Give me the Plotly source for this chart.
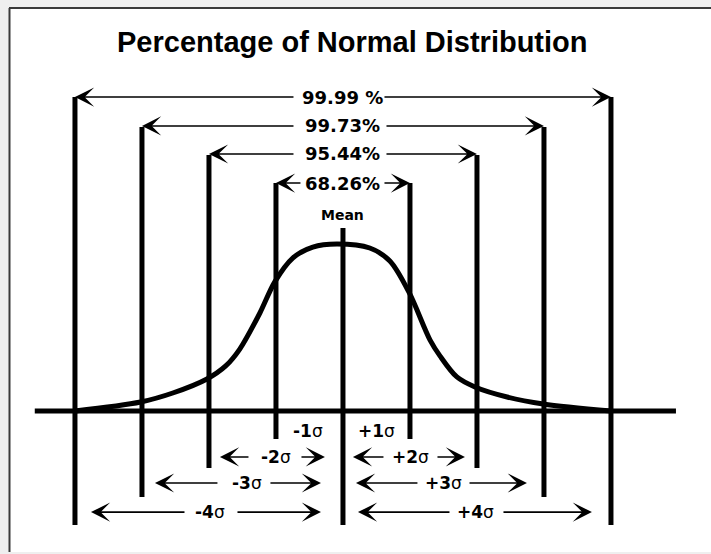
import plotly.graph_objects as go

# ---------------- data ----------------
title_text = "Percentage of Normal Distribution"
sigma_levels = [1, 2, 3, 4]
percent_labels = ["68.26%", "95.44%", "99.73%", "99.99 %"]   # for 1,2,3,4 sigma
mean_label = "Mean"

# curve (x in sigma units, relative height)
curve_x = [-4.0, -3.02, -2.54, -2.03, -1.75, -1.54, -1.24, -1.02, -0.75, -0.45, -0.09,
           0.40, 0.70, 0.99, 1.30, 1.45, 1.70, 1.97, 2.45, 2.99, 4.0]
curve_y = [0.0, 0.054, 0.108, 0.192, 0.27, 0.371, 0.587, 0.772, 0.916, 0.982, 1.0,
           0.976, 0.898, 0.707, 0.425, 0.329, 0.204, 0.144, 0.084, 0.042, 0.0]

# ---------------- geometry (data units) ----------------
line_top = {0: 1.096, 1: 1.365, 2: 1.533, 3: 1.701, 4: 1.880}
line_bot = {0: -0.683, 1: -0.168, 2: -0.341, 3: -0.515, 4: -0.683}
pct_y = {1: 1.365, 2: 1.539, 3: 1.707, 4: 1.880}
pct_tail = {1: (-0.627, 0.612), 2: (-0.731, 0.642), 3: (-0.731, 0.642), 4: (-0.731, 0.612)}

# bottom rows: (label, y, text_x, left_head, left_tail, right_tail, right_head)
bottom_rows = [
    ("-2", -0.275, -1.0, -1.836, -1.403, -0.627, -0.269),
    ("+2", -0.275, 1.015, 0.149, 0.612, 1.403, 1.821),
    ("-3", -0.431, -1.433, -2.806, -1.866, -1.090, -0.328),
    ("+3", -0.431, 1.493, 0.194, 1.119, 1.881, 2.746),
    ("-4", -0.605, -1.985, -3.761, -2.358, -1.582, -0.328),
    ("+4", -0.605, 1.985, 0.224, 1.597, 2.388, 3.716),
]
one_sigma_rows = [("-1", -0.522, -0.120), ("+1", 0.507, -0.120)]

W, H = 711, 554
XR = [-5.119, 5.493]
YR = [-0.856, 2.461]

fig = go.Figure()
fig.add_trace(go.Scatter(x=curve_x, y=curve_y, mode="lines",
                         line=dict(color="black", width=5, shape="spline", smoothing=0.9),
                         hoverinfo="skip", showlegend=False))

shapes = []
# frame
shapes.append(dict(type="rect", xref="paper", yref="paper", x0=10/W, x1=1, y0=2/H, y1=(H-8)/H,
                   fillcolor="white", line=dict(width=0), layer="below"))
shapes.append(dict(type="line", xref="paper", yref="paper", x0=9/W, x1=1, y0=(H-8)/H, y1=(H-8)/H,
                   line=dict(color="#3a3a3a", width=2)))
shapes.append(dict(type="line", xref="paper", yref="paper", x0=9.5/W, x1=9.5/W, y0=2/H, y1=(H-8)/H,
                   line=dict(color="#3a3a3a", width=2)))
# baseline
shapes.append(dict(type="line", x0=-4.6, x1=4.97, y0=0, y1=0, line=dict(color="black", width=5)))
# vertical lines
for k in [0] + sigma_levels:
    for s in ([k, -k] if k else [0]):
        shapes.append(dict(type="line", x0=s, x1=s, y0=line_bot[k], y1=line_top[k],
                           line=dict(color="black", width=5)))

ann = []
def arrow(tail_x, head_x, y):
    ann.append(dict(x=head_x, y=y, ax=tail_x, ay=y, xref="x", yref="y", axref="x", ayref="y",
                    text=" ", font=dict(size=1), borderpad=0, showarrow=True,
                    arrowhead=3, arrowsize=2.0, arrowwidth=1.6, arrowcolor="black"))

def label(x, y, text, size, family="DejaVu Sans", ref="x"):
    ann.append(dict(x=x, y=y, xref=ref, yref=ref.replace("x", "y"), text=text, showarrow=False,
                    xanchor="center", yanchor="middle",
                    font=dict(family=family, size=size, color="black")))

for k, lab in zip(sigma_levels, percent_labels):
    y = pct_y[k]
    lt, rt = pct_tail[k]
    arrow(lt, -k, y)
    arrow(rt, k, y)
    label(0, y, "<b>%s</b>" % lab, 18)

for lab, y, tx, lh, lt, rt, rh in bottom_rows:
    arrow(lt, lh, y)
    arrow(rt, rh, y)
    label(tx, y, "<b>%s</b>σ" % lab, 17)
for lab, tx, y in one_sigma_rows:
    label(tx, y, "<b>%s</b>σ" % lab, 17)

label(0, 1.174, "<b>%s</b>" % mean_label, 14)
ann.append(dict(x=352/W, y=(H-42)/H, xref="paper", yref="paper", text="<b>%s</b>" % title_text,
                showarrow=False, xanchor="center", yanchor="middle",
                font=dict(family="Liberation Sans", size=29, color="black")))

fig.update_layout(width=W, height=H, margin=dict(l=0, r=0, t=0, b=0),
                  paper_bgcolor="#efefef", plot_bgcolor="rgba(0,0,0,0)",
                  xaxis=dict(range=XR, visible=False, fixedrange=True),
                  yaxis=dict(range=YR, visible=False, fixedrange=True),
                  shapes=shapes, annotations=ann, showlegend=False)
fig.write_html("out.html", config=dict(displayModeBar=False),
               post_script="document.body.style.margin='0px';document.body.style.overflow='hidden';")
